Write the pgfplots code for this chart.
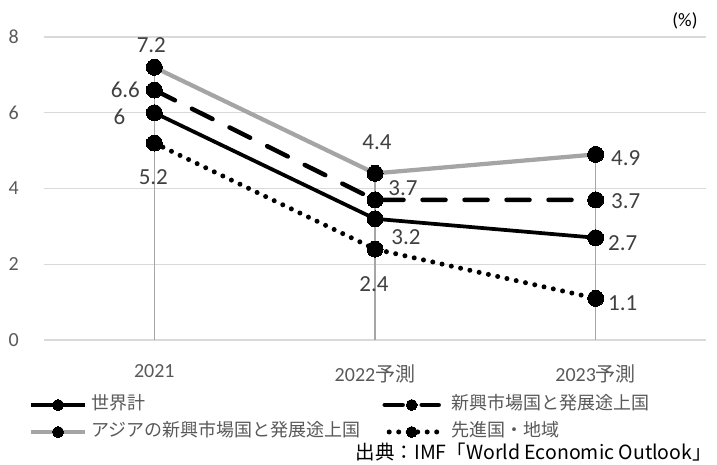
\documentclass[border=0pt]{standalone}
\usepackage{pgfplots}
\pgfplotsset{compat=1.18}
\usepackage{pgfplotstable}
\usepackage{fontspec}
\setmainfont{Carlito}
\newfontfamily\cjk{Noto Sans CJK JP}
\definecolor{gridc}{HTML}{D9D9D9}
\definecolor{ticktxt}{HTML}{595959}
\definecolor{lbltxt}{HTML}{404040}
\definecolor{asia}{HTML}{A5A5A5}
\definecolor{drop}{HTML}{A6A6A6}

\pgfplotstableread{
x y dx dy
0 6.0 -35 -4
1 3.2 31 -18
2 2.7 27 -5
}\world
\pgfplotstableread{
x y dx dy
0 6.6 -29 0
1 3.7 28 12
2 3.7 30 -1
}\emerging
\pgfplotstableread{
x y dx dy
0 7.2 -3 22
1 4.4 2 31
2 4.9 30 -4
}\asia
\pgfplotstableread{
x y dx dy
0 5.2 -1 -34
1 2.4 -1 -35
2 1.1 27 -5
}\advanced

\begin{document}
\begin{tikzpicture}
\path[use as bounding box] (0,0) rectangle (717bp,-465bp);
\begin{axis}[
  at={(44bp,-340bp)}, anchor=south west,
  scale only axis, width=662bp, height=303bp,
  xmin=-0.5, xmax=2.5, ymin=0, ymax=8,
  xtick={0,1,2}, xticklabels={2021, 2022{\cjk 予測}, 2023{\cjk 予測}},
  ytick={0,2,4,6,8},
  ymajorgrids, grid style={gridc, line width=1.3bp},
  axis line style={draw=none},
  major tick length=0pt,
  /pgf/number format/assume math mode=true,
  tick label style={font=\fontsize{20bp}{24bp}\selectfont, text=ticktxt},
  yticklabel style={inner sep=0pt, xshift=-25bp},
  xticklabel style={inner sep=0pt, yshift=-24bp},
  clip=false,
  legend columns=2,
  legend style={at={(-0.0227,-0.259)}, anchor=west, draw=none, fill=none, inner sep=0pt, outer sep=0pt,
     font=\cjk\fontsize{18bp}{20bp}\selectfont, text=ticktxt,
     cells={anchor=west},
     nodes={inner sep=0pt, text height=13bp, text depth=3bp},
     row sep=11bp, column sep=0pt,
     /tikz/column 1/.style={column sep=4bp},
     /tikz/column 2/.style={text width=283bp, column sep=8bp},
     /tikz/column 3/.style={column sep=10bp},
  },
  legend image code/.code={
     \draw[mark repeat=2, mark phase=2, #1, mark size=5.5bp, dash phase=5bp] plot coordinates {(0bp,0bp) (27bp,0bp) (54bp,0bp)};
  },
  lbl/.style={nodes near coords, point meta=y,
     visualization depends on={\thisrow{dx} \as \dx},
     visualization depends on={\thisrow{dy} \as \dy},
     every node near coord/.append style={anchor=center, xshift=\dx bp, yshift=\dy bp,
        font=\fontsize{23bp}{27bp}\selectfont, text=lbltxt, inner sep=0pt}},
  series/.style={mark=*, mark size=8bp, mark options={solid, draw=black, fill=black, line width=0pt}},
]
\addplot[ycomb, drop, line width=1.5bp, forget plot] coordinates {(0,7.2) (1,4.4) (2,4.9)};
\addplot[black, line width=3.75bp, series, lbl] table[x=x, y=y] {\world};
\addlegendentry{世界計}
\addplot[black, line width=4.5bp, dash pattern=on 23bp off 19bp, line cap=round, series, lbl] table[x=x, y=y] {\emerging};
\addlegendentry{新興市場国と発展途上国}
\addplot[asia, line width=4.25bp, series, lbl] table[x=x, y=y] {\asia};
\addlegendentry{アジアの新興市場国と発展途上国}
\addplot[black, line width=5bp, dash pattern=on 0bp off 9.5bp, line cap=round, series, lbl] table[x=x, y=y] {\advanced};
\addlegendentry{先進国・地域}
\end{axis}
\node[anchor=center, font=\fontsize{19bp}{22bp}\selectfont] at (685bp,-21bp) {(\%)};
\node[anchor=east, inner sep=0pt, font=\cjk\fontsize{19.5bp}{23bp}\selectfont] at (712bp,-452bp) {出典：IMF「World Economic Outlook」};
\end{tikzpicture}
\end{document}
